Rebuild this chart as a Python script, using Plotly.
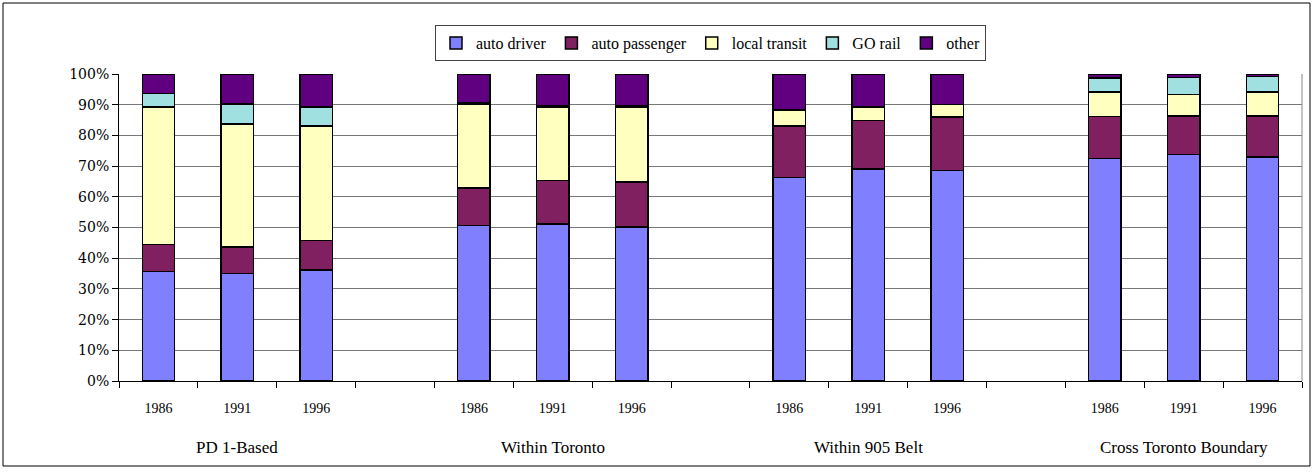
import plotly.graph_objects as go

groups = ["PD 1-Based", "Within Toronto", "Within 905 Belt", "Cross Toronto Boundary"]
years = ["1986", "1991", "1996"]

# shares (%) per bar, ordered group by group, year by year
auto_driver    = [35.7, 35.0, 36.1, 50.7, 51.2, 50.1, 66.3, 69.0, 68.6, 72.4, 73.7, 73.0]
auto_passenger = [8.8, 8.6, 9.7, 12.2, 14.1, 14.7, 16.7, 15.8, 17.4, 13.7, 12.7, 13.4]
local_transit  = [44.8, 40.1, 37.2, 27.4, 24.0, 24.5, 5.3, 4.4, 4.0, 8.0, 6.9, 7.7]
go_rail        = [4.3, 6.5, 6.3, 0.4, 0.5, 0.2, 0.2, 0.2, 0.1, 4.6, 5.5, 5.1]
other          = [6.4, 9.8, 10.7, 9.3, 10.2, 10.5, 11.5, 10.6, 9.9, 1.3, 1.2, 0.8]

series = [
    ("auto driver", auto_driver, "#8080FF"),
    ("auto passenger", auto_passenger, "#802060"),
    ("local transit", local_transit, "#FFFFC0"),
    ("GO rail", go_rail, "#A0E0E0"),
    ("other", other, "#600080"),
]

# each group takes 3 slots plus one empty slot between groups
xpos = [g * 4 + i for g in range(len(groups)) for i in range(len(years))]
nslots = len(groups) * 4 - 1

fig = go.Figure()
for name, vals, col in series:
    fig.add_bar(x=xpos, y=vals, name=name, width=0.41,
                marker=dict(color=col, line=dict(color="black", width=1.5)))

W, H = 1314, 472
L, R, T, B = 119, 12, 74, 91
pw, ph = W - L - R, H - T - B

serif = "Liberation Serif, Times New Roman, serif"
fig.update_layout(
    barmode="stack",
    width=W, height=H,
    margin=dict(l=L, r=R, t=T, b=B),
    paper_bgcolor="white", plot_bgcolor="white",
    font=dict(family=serif, size=14, color="black"),
    legend=dict(orientation="h", traceorder="normal", x=0.5, xanchor="center",
                y=(ph + T - 25) / ph, yanchor="top", bordercolor="#444", borderwidth=1,
                font=dict(family=serif, size=16), itemwidth=30, tracegroupgap=0),
    xaxis=dict(range=[-0.5, nslots - 0.5], tickvals=[k - 0.5 for k in range(nslots + 1)],
               showticklabels=False, ticks="outside", ticklen=6, tickcolor="black",
               showline=True, linecolor="black", linewidth=1, showgrid=False,
               zeroline=False, mirror=False),
    xaxis2=dict(overlaying="x", side="bottom", range=[-0.5, nslots - 0.5],
                tickvals=xpos, ticktext=years * len(groups), ticks="",
                ticklabelstandoff=17, showgrid=False, showline=False, zeroline=False,
                tickfont=dict(family=serif, size=14)),
    yaxis=dict(range=[0, 100], dtick=10, ticksuffix="%", ticks="outside", ticklen=6,
               tickcolor="black", showline=True, linecolor="black", linewidth=1,
               showgrid=True, gridcolor="#777", gridwidth=1, zeroline=False,
               tickfont=dict(family="DejaVu Serif, serif", size=14)),
)

# dummy trace so xaxis2 is drawn
fig.add_scatter(x=[xpos[0]], y=[0], xaxis="x2", mode="markers",
                marker=dict(opacity=0), showlegend=False, hoverinfo="skip")

for g, name in enumerate(groups):
    fig.add_annotation(x=g * 4 + 1, y=-(447 - (T + ph)) / ph, xref="x", yref="paper",
                       text=name, showarrow=False, yanchor="middle",
                       font=dict(family=serif, size=17))

# right edge of plot area and outer chart border
fig.add_shape(type="line", xref="paper", yref="paper", x0=1, x1=1, y0=0, y1=1,
              line=dict(color="#888", width=1))
fig.add_shape(type="rect", xref="paper", yref="paper",
              x0=(3 - L) / pw, x1=(W - 4 - L) / pw,
              y0=-(H - 6 - T - ph) / ph, y1=(T + ph - 3) / ph,
              line=dict(color="black", width=1))

fig.write_html("out.html", config={"displayModeBar": False},
               post_script="document.body.style.margin='0';")
